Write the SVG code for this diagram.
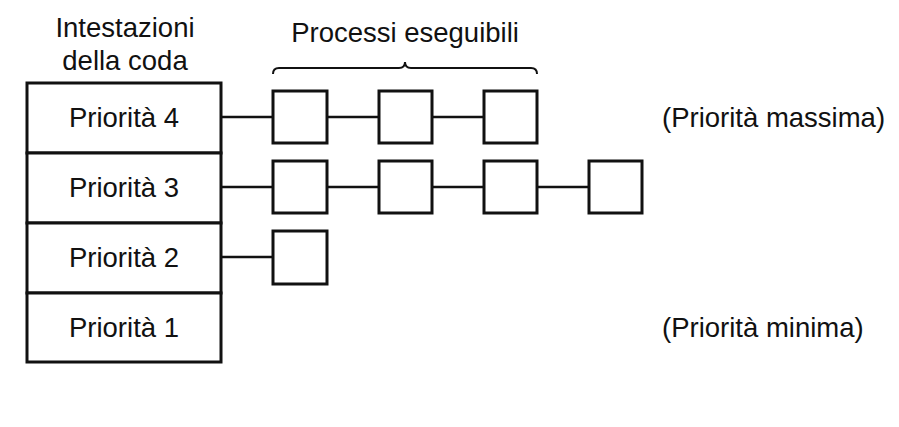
<svg xmlns="http://www.w3.org/2000/svg" width="899" height="427" viewBox="0 0 899 427">
<style>
text{font-family:"Liberation Sans",Arial,Helvetica,sans-serif;font-size:27.5px;fill:#111}
.c{text-anchor:middle}
.hdr{fill:#fff;stroke:#111;stroke-width:3}
.proc{fill:#fff;stroke:#111;stroke-width:3}
.ln{stroke:#111;stroke-width:2.6;fill:none}
.br{stroke:#111;stroke-width:2;fill:none}
</style>
<rect width="899" height="427" fill="#fff"/>
<text class="c" x="125" y="37">Intestazioni</text>
<text class="c" x="125" y="70">della coda</text>
<text class="c" x="405" y="42">Processi eseguibili</text>
<path class="br" d="M273,74 Q273,68 279,68 L399,68 Q405,68 405,62 Q405,68 411,68 L531,68 Q537,68 537,74"/>
<g id="connectors">
<line class="ln" x1="221" y1="117" x2="273" y2="117"/>
<line class="ln" x1="327" y1="117" x2="379" y2="117"/>
<line class="ln" x1="432" y1="117" x2="484" y2="117"/>
<line class="ln" x1="221" y1="187" x2="273" y2="187"/>
<line class="ln" x1="327" y1="187" x2="379" y2="187"/>
<line class="ln" x1="432" y1="187" x2="484" y2="187"/>
<line class="ln" x1="537" y1="187" x2="589" y2="187"/>
<line class="ln" x1="221" y1="257" x2="273" y2="257"/>
</g>
<g id="h4"><rect class="hdr" x="27" y="83" width="194" height="70"/><text class="c" x="124" y="127">Priorità 4</text></g>
<g id="h3"><rect class="hdr" x="27" y="153" width="194" height="70"/><text class="c" x="124" y="197">Priorità 3</text></g>
<g id="h2"><rect class="hdr" x="27" y="223" width="194" height="70"/><text class="c" x="124" y="267">Priorità 2</text></g>
<g id="h1"><rect class="hdr" x="27" y="293" width="194" height="69"/><text class="c" x="124" y="337">Priorità 1</text></g>
<g id="p41"><rect class="proc" x="273" y="91" width="54" height="52"/></g>
<g id="p42"><rect class="proc" x="379" y="91" width="53" height="52"/></g>
<g id="p43"><rect class="proc" x="484" y="91" width="53" height="52"/></g>
<g id="p31"><rect class="proc" x="273" y="161" width="54" height="52"/></g>
<g id="p32"><rect class="proc" x="379" y="161" width="53" height="52"/></g>
<g id="p33"><rect class="proc" x="484" y="161" width="53" height="52"/></g>
<g id="p34"><rect class="proc" x="589" y="161" width="53" height="52"/></g>
<g id="p21"><rect class="proc" x="273" y="231" width="54" height="53"/></g>
<text x="662" y="127">(Priorità massima)</text>
<text x="662" y="337">(Priorità minima)</text>
</svg>
